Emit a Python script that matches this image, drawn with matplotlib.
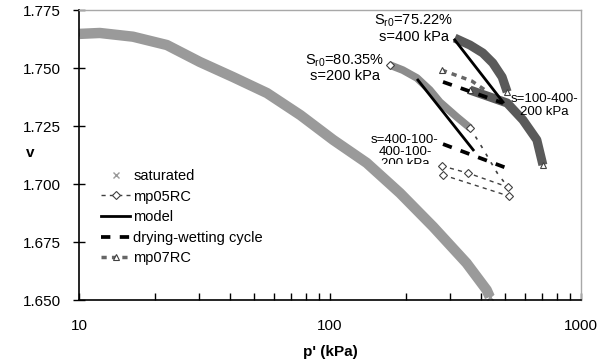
"""Specific volume v against mean effective stress p' for saturated and unsaturated tests."""

import matplotlib
matplotlib.use("Agg")
import matplotlib.pyplot as plt
from matplotlib.patches import Rectangle
from matplotlib.ticker import FixedLocator, NullFormatter, FuncFormatter

plt.rcParams["font.family"] = ["Liberation Sans", "DejaVu Sans"]
plt.rcParams["mathtext.default"] = "regular"

# saturated test (dense band of x markers)
sat_p = [10.05, 12.1, 16.4, 22.4, 30.3, 41.1, 56.1, 76.2, 103, 140, 190, 258,
         350, 421, 433]
sat_v = [1.7647, 1.7651, 1.7635, 1.7599, 1.7526, 1.7461, 1.7392, 1.7297, 1.7190,
         1.7091, 1.6961, 1.6815, 1.6659, 1.6543, 1.6513]

# mp05RC, Sr0=80.35 %, s=200 kPa
mp05_band_p = [173, 195, 222, 250, 274, 320, 362]
mp05_band_v = [1.7513, 1.7491, 1.7457, 1.7405, 1.7353, 1.7289, 1.7241]
mp05_tail_p = [362, 403, 464, 511]
mp05_tail_v = [1.7241, 1.7159, 1.7047, 1.6987]
mp05_cyc1_p = [279, 355, 511]
mp05_cyc1_v = [1.7078, 1.7047, 1.6987]
mp05_cyc2_p = [282, 516]
mp05_cyc2_v = [1.7039, 1.6948]

# mp07RC, Sr0=75.22 %, s=400 kPa
mp07_band1_p = [314, 361, 406, 445, 485, 508]
mp07_band1_v = [1.7629, 1.7599, 1.7565, 1.7522, 1.7461, 1.7397]
mp07_band2_p = [361, 434, 508, 587, 667, 705]
mp07_band2_v = [1.7405, 1.7375, 1.7349, 1.7276, 1.7190, 1.7082]
mp07_cyc_p = [279, 323, 367, 415]
mp07_cyc_v = [1.7491, 1.7466, 1.7444, 1.7405]

# model predictions and drying-wetting cycles
model1_p = [224, 372]
model1_v = [1.7448, 1.7147]
model2_p = [314, 489]
model2_v = [1.7621, 1.7353]
dw1_p = [282, 505]
dw1_v = [1.7172, 1.7069]
dw2_p = [282, 489]
dw2_v = [1.7440, 1.7349]

y_ticks = [1.650, 1.675, 1.700, 1.725, 1.750, 1.775]

fig = plt.figure(figsize=(6.0, 3.62), dpi=100)
ax = fig.add_axes([79 / 600, 1 - 300 / 362, (581 - 79) / 600, 290 / 362])

FS = 10.5
sat_col = "#9a9a9a"
mp05_col = "#8c8c8c"
mp07_col = "#5a5a5a"

# saturated band
ax.plot(sat_p, sat_v, color=sat_col, lw=7.5, solid_capstyle="butt", zorder=2)
sat_handle, = ax.plot(sat_p, sat_v, ls="none", marker="x", ms=4, mew=1,
                      color=sat_col, zorder=2)

# mp05RC
ax.plot(mp05_band_p, mp05_band_v, color=mp05_col, lw=5.5, zorder=3,
        solid_capstyle="butt")
ax.plot(mp05_band_p, mp05_band_v, ls="none", marker="D", ms=4, mfc="white",
        mec="#404040", mew=0.8, markevery=[0, len(mp05_band_p) - 1], zorder=4)
ax.plot(mp05_tail_p, mp05_tail_v, color="#404040", lw=1.2, dashes=(2, 4), zorder=3)
mp05_handle, = ax.plot(mp05_cyc1_p, mp05_cyc1_v, color="#404040", lw=1.0,
                       dashes=(3, 3), marker="D", ms=4, mfc="white",
                       mec="#404040", mew=0.8, zorder=4)
ax.plot(mp05_cyc2_p, mp05_cyc2_v, color="#404040", lw=1.0, dashes=(3, 3),
        marker="D", ms=4, mfc="white", mec="#404040", mew=0.8, zorder=4)

# mp07RC
ax.plot(mp07_band1_p, mp07_band1_v, color=mp07_col, lw=6.5, zorder=3,
        solid_capstyle="butt")
ax.plot(mp07_band1_p, mp07_band1_v, ls="none", marker="^", ms=5, mfc="white",
        mec="#404040", mew=0.8, markevery=[len(mp07_band1_p) - 1], zorder=4)
ax.plot(mp07_band2_p, mp07_band2_v, color=mp07_col, lw=6.5, zorder=3,
        solid_capstyle="butt")
ax.plot(mp07_band2_p, mp07_band2_v, ls="none", marker="^", ms=5, mfc="white",
        mec="#404040", mew=0.8, markevery=[0, len(mp07_band2_p) - 1], zorder=4)
mp07_handle, = ax.plot(mp07_cyc_p, mp07_cyc_v, color="#666666", lw=2.5,
                       dashes=(1.5, 1.5), marker="^", ms=5, mfc="white",
                       mec="#404040", mew=0.8, markevery=[0], zorder=4)

# model and drying-wetting
model_handle, = ax.plot(model1_p, model1_v, color="black", lw=2, zorder=5)
ax.plot(model2_p, model2_v, color="black", lw=2, zorder=5)
dw_handle, = ax.plot(dw1_p, dw1_v, color="black", lw=2.7, dashes=(2.5, 2.5), zorder=5)
ax.plot(dw2_p, dw2_v, color="black", lw=2.7, dashes=(2.5, 2.5), zorder=5)

# annotations
ax.text(216, 1.7672, "S$_{r0}$=75.22%\ns=400 kPa", fontsize=FS, ha="center",
        va="center", linespacing=1.05)
ax.text(114.7, 1.7500, "S$_{r0}$=80.35%\ns=200 kPa", fontsize=FS, ha="center",
        va="center", linespacing=1.05)
ax.text(715, 1.7338, "s=100-400-\n200 kPa", fontsize=9.5, ha="center",
        va="center", linespacing=1.05)
t = ax.text(199, 1.7138, "s=400-100-\n400-100-\n200 kPa", fontsize=9.5,
            ha="center", va="center", linespacing=1.05)
clip = Rectangle((100, 1.7088), 400, 0.05, transform=ax.transData)
t.set_clip_on(True)
t.set_clip_path(clip)

# axes
ax.set_xscale("log")
ax.set_xlim(10, 1000)
ax.set_ylim(1.650, 1.775)
ax.set_yticks(y_ticks)
ax.yaxis.set_major_formatter(FuncFormatter(lambda v, _: f"{v:.3f}"))
ax.xaxis.set_major_locator(FixedLocator([10, 100, 1000]))
ax.xaxis.set_major_formatter(FuncFormatter(lambda v, _: f"{v:.0f}"))
ax.xaxis.set_minor_locator(FixedLocator([k * d for d in (10, 100) for k in range(2, 10)]))
ax.xaxis.set_minor_formatter(NullFormatter())
ax.tick_params(axis="x", which="both", direction="in", length=5, width=1,
               labelsize=FS + 0.5, pad=14)
ax.tick_params(axis="y", which="major", direction="inout", length=8, width=1,
               labelsize=FS + 0.5, pad=9)
ax.yaxis.set_minor_locator(FixedLocator([]))

for side in ("left", "bottom"):
    ax.spines[side].set_color("black")
    ax.spines[side].set_linewidth(1.2)
for side in ("top", "right"):
    ax.spines[side].set_color("#a8a8a8")
    ax.spines[side].set_linewidth(1.0)

ax.set_xlabel("p' (kPa)", fontsize=FS + 0.5, fontweight="bold", labelpad=8)
ax.set_ylabel("v", fontsize=FS + 0.5, fontweight="bold", rotation=0,
              va="center", ha="center")
ax.yaxis.set_label_coords((30 - 79) / 502, (300 - 153) / 290)

fig.legend([sat_handle, mp05_handle, model_handle, dw_handle, mp07_handle],
           ["saturated", "mp05RC", "model", "drying-wetting cycle", "mp07RC"],
           loc="upper left", bbox_to_anchor=(101 / 600, 1 - 169 / 362),
           frameon=False, fontsize=FS, handlelength=2.0, handletextpad=0.2,
           labelspacing=0.45, borderpad=0, borderaxespad=0, numpoints=1)

fig.savefig("out.png", dpi=100)
